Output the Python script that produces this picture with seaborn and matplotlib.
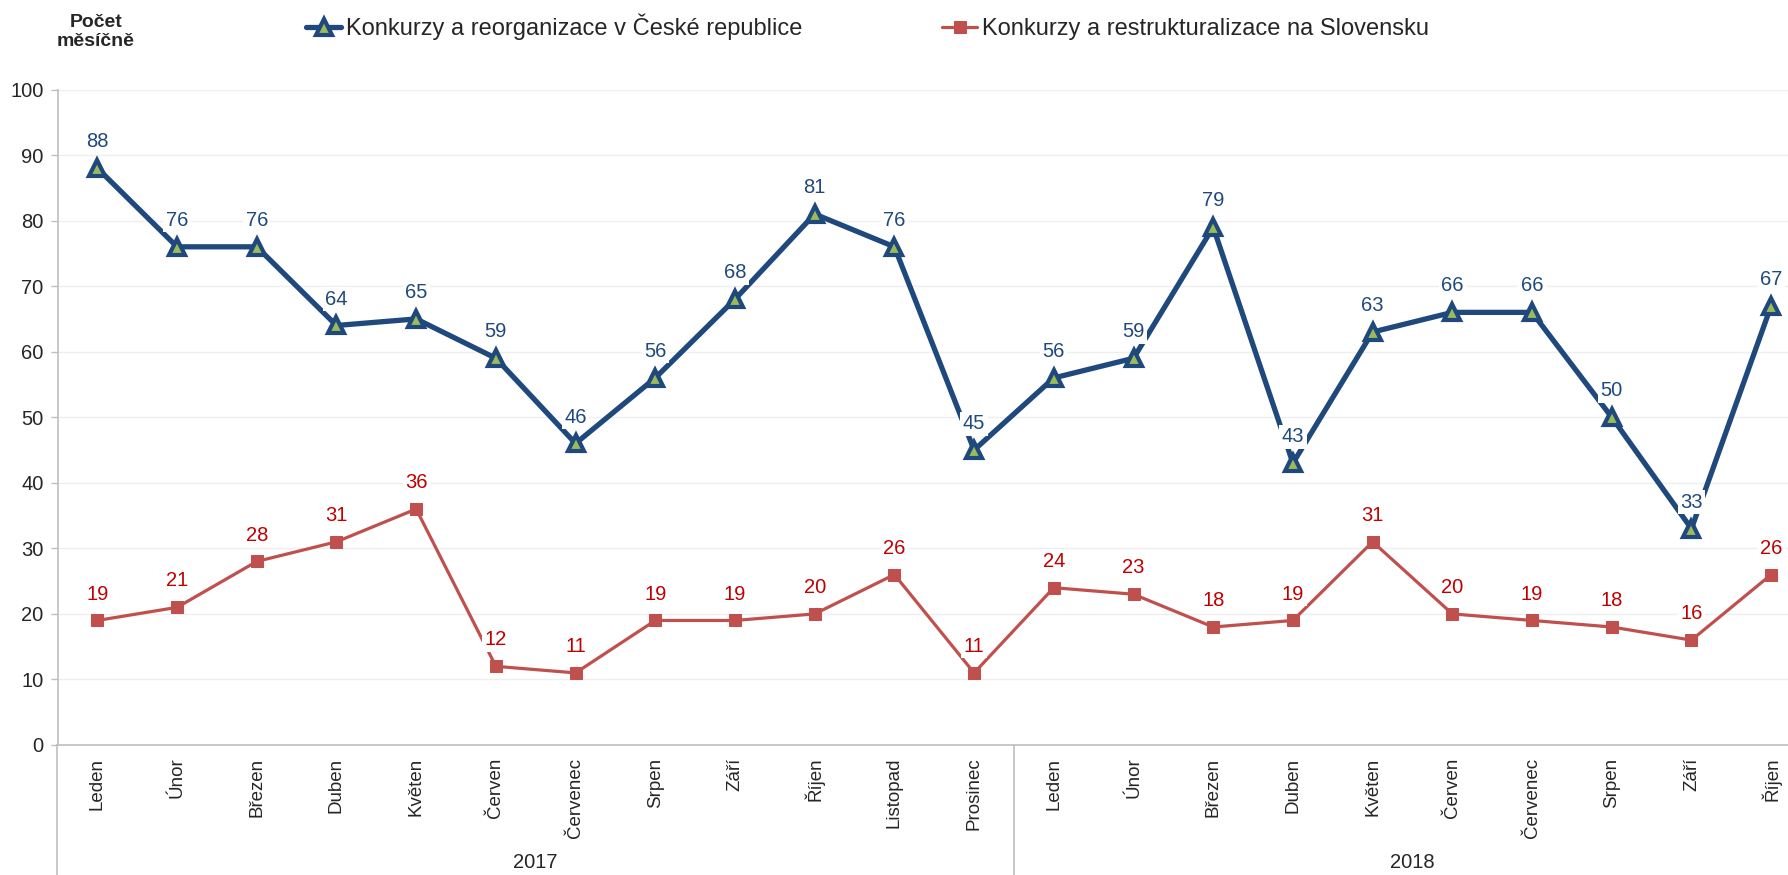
import numpy as np
import pandas as pd
import seaborn as sns
import matplotlib.pyplot as plt
from matplotlib import transforms

months = ["Leden", "Únor", "Březen", "Duben", "Květen", "Červen", "Červenec",
          "Srpen", "Září", "Říjen", "Listopad", "Prosinec",
          "Leden", "Únor", "Březen", "Duben", "Květen", "Červen", "Červenec",
          "Srpen", "Září", "Říjen"]
years = ["2017", "2018"]
year_counts = [12, 10]
cz = [88, 76, 76, 64, 65, 59, 46, 56, 68, 81, 76, 45,
      56, 59, 79, 43, 63, 66, 66, 50, 33, 67]
sk = [19, 21, 28, 31, 36, 12, 11, 19, 19, 20, 26, 11,
      24, 23, 18, 19, 31, 20, 19, 18, 16, 26]
cz_name = "Konkurzy a reorganizace v České republice"
sk_name = "Konkurzy a restrukturalizace na Slovensku"

df = pd.DataFrame({"i": np.arange(len(months)), "cz": cz, "sk": sk})

sns.set_theme(style="white")
plt.rcParams["font.family"] = ["Liberation Sans", "DejaVu Sans"]

blue = "#1F497D"
red = "#C0504D"
grey = "#BFBFBF"
fs = 14.5

fig = plt.figure(figsize=(17.88, 8.75), dpi=100)
ax = fig.add_axes([57.5 / 1788, 130 / 875, 1753.5 / 1788, 655.5 / 875])

sns.lineplot(data=df, x="i", y="cz", ax=ax, color=blue, lw=3.8, marker="^",
             markersize=11, markerfacecolor="#9BBB59", markeredgecolor=blue,
             markeredgewidth=3, label=cz_name, zorder=3)
sns.lineplot(data=df, x="i", y="sk", ax=ax, color=red, lw=2.3, marker="s",
             markersize=9, markerfacecolor=red, markeredgecolor=red,
             label=sk_name, zorder=3)

for xi, v in zip(df["i"], cz):
    ax.annotate(str(v), (xi, v), xytext=(0, 19), textcoords="offset points",
                ha="center", va="center", fontsize=fs, color=blue, zorder=5,
                bbox=dict(boxstyle="square,pad=0.12", fc="white", ec="none"))
for xi, v in zip(df["i"], sk):
    ax.annotate(str(v), (xi, v), xytext=(0, 19), textcoords="offset points",
                ha="center", va="center", fontsize=fs, color="#C00000", zorder=5,
                bbox=dict(boxstyle="square,pad=0.12", fc="white", ec="none"))

ax.set_xlim(-0.5, len(months) - 0.5)
ax.set_ylim(0, 100)
ax.set_yticks(range(0, 101, 10))
ax.yaxis.grid(True, color="#EFEFEF", lw=1)
ax.set_axisbelow(True)
ax.set_xlabel("")
ax.set_ylabel("")

for s in ["top", "right"]:
    ax.spines[s].set_visible(False)
for s in ["left", "bottom"]:
    ax.spines[s].set_color(grey)
    ax.spines[s].set_linewidth(1.2)

ax.set_xticks(range(len(months)))
ax.set_xticklabels(months, rotation=90, fontsize=13.5)
ax.set_xticks(np.arange(-0.5, len(months), 1), minor=True)
ax.tick_params(axis="x", which="major", length=0, pad=9)
ax.tick_params(axis="x", which="minor", length=68, width=1, color=grey,
               direction="out")
ax.tick_params(axis="y", length=5, width=1, color=grey, labelsize=fs, pad=5,
               left=True)

trans = transforms.blended_transform_factory(ax.transData, ax.transAxes)
start = 0
bounds = [-0.5]
for y, n in zip(years, year_counts):
    ax.text(start + (n - 1) / 2, -0.1785, y, transform=trans, ha="center",
            va="center", fontsize=fs)
    start += n
    bounds.append(start - 0.5)
for b in bounds:
    ax.plot([b, b], [0, -0.25], transform=trans, color=grey, lw=1.2,
            clip_on=False)

ax.legend_.remove()
handles, labels = ax.get_legend_handles_labels()
fig.legend(handles, labels, loc="center left", ncol=2, frameon=False,
           bbox_to_anchor=(306 / 1788, 1 - 27 / 875), fontsize=17,
           handlelength=1.5, handletextpad=0.2, columnspacing=5.9,
           borderpad=0, borderaxespad=0)

fig.text(96 / 1788, 1 - 32 / 875, "Počet\nměsíčně", ha="center",
         va="center", fontsize=14, fontweight="bold", linespacing=1.15)

fig.savefig("out.png", dpi=100)
